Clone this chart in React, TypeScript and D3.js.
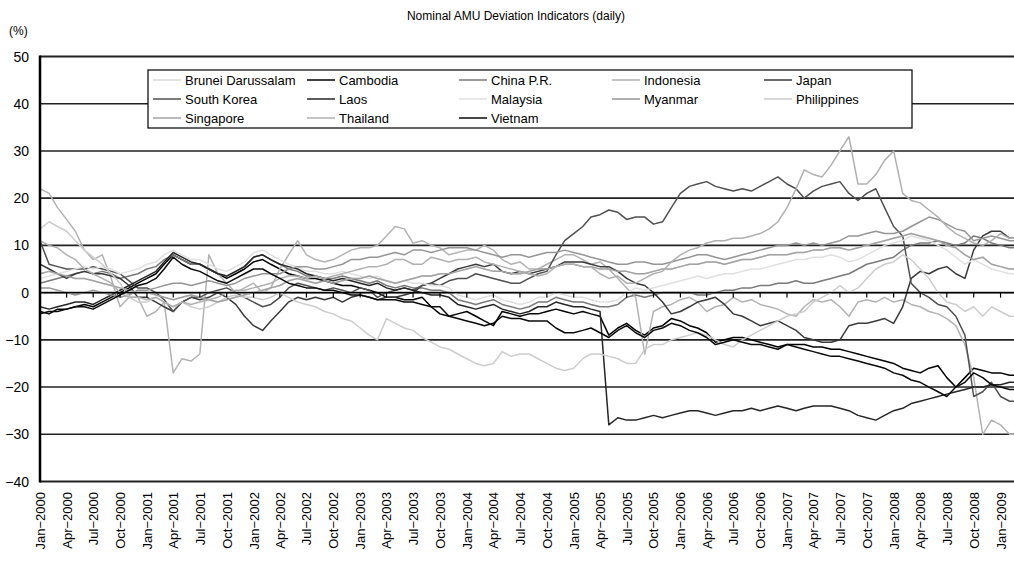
import React from 'react';
import * as d3 from 'd3';

const W = 1014;
const H = 562;
const PL = 40, PR = 1014, PT = 56.5, PB = 481.5;

// monthly readings, Jan-2000 .. Mar-2009 (111 points)
const months = d3.range(111).map((m) => new Date(2000, m, 1));
const xTickDates = d3.range(0, 109, 3).map((m) => new Date(2000, m, 1));
const yTicks = [50, 40, 30, 20, 10, 0, -10, -20, -30, -40];

const singapore = [
  4, 4.5, 4, 3.5, 3, 3, 2.5, 2, 1.5, 1, 0.5, 0,
  0, -0.5, -1, -1.5, -1, -0.5, -1, -1.5, -2, -1.5, -1, -0.5,
  0, 0.5, 1, 1.5, 2.5, 3, 2.5, 2, 2.5, 2, 2.5, 3,
  3, 3.5, 3, 2.5, 2, 2.5, 3, 3.5, 3.5, 4, 4, 4.5,
  5, 5.5, 5, 4.5, 4.5, 4, 4, 4.5, 5, 5, 5.5, 6,
  6, 5.5, 5.5, 5, 5, 4.5, 4.5, 4, 4, 4.5, 5, 5,
  5.5, 6, 6, 6.5, 6.5, 6, 6.5, 7, 7, 7.5, 8, 8,
  8, 8.5, 8.5, 9, 9, 9.5, 9.5, 9, 9.5, 10, 10.5, 11,
  11.5, 12, 12.5, 12, 11.5, 11, 10, 9.5, 8, 7, 7.5, 6,
  5.5, 5, 5,
];
const bruneiDarussalam = [
  4, 4.5, 4, 3.5, 3, 3, 2.5, 2, 1.5, 1, 0.5, 0,
  0, -0.5, -1, -1.5, -1, -0.5, -1, -1.5, -2, -1.5, -1, -0.5,
  0, 0.5, 1, 1.5, 2.5, 3, 2.5, 2, 2.5, 2, 2.5, 3,
  3, 3.5, 3, 2.5, 2, 2.5, 3, 3.5, 3.5, 4, 4, 4.5,
  5, 5.5, 5, 4.5, 4.5, 4, 4, 4.5, 5, 5, 5.5, 6,
  6, 5.5, 5.5, 5, 5, 4.5, 4.5, 4, 4, 4.5, 5, 5,
  5.5, 6, 6, 6.5, 6.5, 6, 6.5, 7, 7, 7.5, 8, 8,
  8, 8.5, 8.5, 9, 9, 9.5, 9.5, 9, 9.5, 10, 10.5, 11,
  11.5, 12, 12.5, 12, 11.5, 11, 10, 9.5, 8, 7, 7.5, 6,
  5.5, 5, 5,
];
const cambodia = [
  -4, -4.5, -3.5, -3.5, -3, -2.5, -3, -2, -1, 0, 1, 2,
  3, 4, 6, 8, 7, 6, 6, 5, 4, 3, 4, 5,
  6.5, 7, 6, 5, 4, 3.5, 3, 3, 2.5, 2, 1.5, 1.5,
  1, 0.5, 0, -1, -1, -1.5, -1.5, -1, -3, -4.5, -5, -4.5,
  -4, -5, -6, -7, -4, -4.5, -5, -4.5, -4.5, -4, -3.5, -4,
  -4.5, -4, -4.5, -5, -9, -7.5, -6.5, -8, -9, -7.5, -7, -5.5,
  -6, -7, -7.5, -8.5, -10.5, -10, -9.5, -9.5, -10, -10.5, -11, -11.5,
  -11, -11, -11, -11.5, -11.5, -12, -12, -12.5, -13, -13.5, -14, -14.5,
  -15, -16, -16.5, -17, -16, -15.5, -18, -20, -18, -16, -16.5, -17,
  -17, -17.5, -17.5,
];
const china = [
  2, 2.5, 3, 3.5, 4, 4.5, 4, 4.5, 4, 3, 3.5, 4,
  5, 5.5, 7, 8, 7, 6, 6, 5, 4, 3.5, 4.5, 5.5,
  7.5, 8, 7, 6, 5, 4.5, 3.5, 3.5, 3, 3, 3.5, 3,
  2.5, 2, 2.5, 1.5, 1, 1.5, 1, 1, 0.5, 0.5, 0, -1.5,
  -2, -2.5, -2, -1.5, -2.5, -3, -3.5, -3, -2, -2, -1, -1.5,
  -2, -2, -2.5, -3, -3, -2.5, -1, -0.5, -1, -0.5, 0, 0,
  0, 0, -0.5, -0.5, 0, 0.5, 0.5, 1, 1, 1.5, 1.5, 2,
  2, 2.5, 2, 2, 2.5, 3, 3.5, 4, 5, 6, 6.5, 7,
  7.5, 9, 10, 10.5, 10.5, 11, 10.5, 10, 10.5, 12, 11.5, 10.5,
  10, 9.5, 9.5,
];
const indonesia = [
  22, 21, 18, 15.5, 13, 9, 7, 8, 3, -3, -1, -1,
  -5, -4, -2, -17, -14, -14.5, -13, 8, 4, 2, 0, 1,
  2, 0, 1, 5, 8, 11, 8, 7, 6.5, 7, 8, 9,
  9.5, 9.5, 10, 12, 14, 13.5, 10.5, 11, 10, 9.5, 8, 8.5,
  9, 9, 10, 9, 7, 6, 6.5, 5, 5, 6, 7, 8,
  8, 7, 6, 6.5, 5, 3, 1, -1, -13, -4, -3, -2.5,
  -1.5, -1, -2, -4, -3, -2.5, -1, -2, -1.5, -2.5, -3, -3.5,
  -4.5, -5, -3, -1.5, -2, -1.5, -3, -5, -2, -1.5, -2, -1,
  -2, -1.5, -2.5, -3, -4, -4.5, -5.5, -7, -11, -18, -30, -27,
  -28, -30, -30,
];
const japan = [
  6, 5, 4, 3, 4, 4.5, 4, 4, 3.5, 3, 1.5, -1,
  -1, -2, -3, -4, -2, -1, -1.5, -1, 0, -1, -2.5, -5,
  -7, -8, -6, -4, -2, -1, -1.5, -1, -1.5, -1, -2, -1,
  -0.5, -1, -1.5, -1, -1, -0.5, 0, 1.5, 2, 3, 4, 5,
  5.5, 6, 5.5, 6, 4.5, 4, 4.5, 4, 4.5, 5, 5.5, 6.5,
  6.5, 6.5, 6, 5.5, 5.5, 4.5, 3, 2, 1.5, 0, -2, -4.5,
  -4, -3, -2, -1.5, -1, -2.5, -4.5, -5, -6, -7, -6.5, -6,
  -7, -8, -9.5, -10, -10.5, -10.5, -10, -7, -6.5, -6.5, -6, -5.5,
  -6.5, -3, 3, 4.5, 4, 5, 5.5, 4, 3, 9, 12, 13,
  13, 11.5, 11.5,
];
const southKorea = [
  11, 6, 5.5, 5, 5, 5, 5.5, 5, 4.5, 4, 2.5, 1,
  1, 0, -1.5, -4, -2, -1, -1, 0, 0.5, 1, 0, -1,
  -2, -3, -2.5, -1, 1, 2, 1.5, 1, 0.5, 1, 0.5, 0,
  1, 0.5, -1, 0, 0.5, 1, 0.5, 1.5, 2, 1.5, 2.5, 3,
  3, 4, 3.5, 3, 2.5, 2, 2, 3, 4, 4.5, 8, 11,
  12.5, 14, 16, 16.5, 17.5, 17, 15.5, 16, 16, 14.5, 15, 18,
  21, 22.5, 23, 23.5, 22.5, 22, 21.5, 22, 21.5, 22.5, 23.5, 24.5,
  23, 22, 20, 21.5, 22.5, 23, 23.5, 21, 19.5, 21, 22, 18,
  14, 12, 2, 0, -1, -2.5, -3, -5, -9, -22, -21, -19,
  -22, -23, -23,
];
const laos = [
  -3, -3.5, -3, -2.5, -2, -2, -2.5, -1.5, -0.5, 0.5, 1.5, 2.5,
  3.5, 4.5, 6.5, 8.5, 7.5, 6.5, 6, 5, 4, 3.5, 4.5, 5.5,
  7.5, 8, 7, 6, 5.5, 5, 4, 3.5, 3, 2.5, 3, 2.5,
  2, 1.5, 2, 1, 0.5, 1, 0.5, 0, -0.5, -0.5, -1, -2.5,
  -3, -3.5, -3, -2.5, -3.5, -4, -4.5, -4, -3, -3, -2, -2.5,
  -3, -3, -3.5, -4, -28, -26.5, -27, -27, -26.5, -26, -26.5, -26,
  -25.5, -25, -25, -25.5, -26, -25.5, -25, -25, -24.5, -25, -24.5, -24,
  -24.5, -25, -24.5, -24, -24, -24, -24.5, -25, -26, -26.5, -27, -26,
  -25, -24.5, -23.5, -23, -22.5, -22, -21.5, -21, -20.5, -20, -20, -19.5,
  -19.5, -19, -19,
];
const malaysia = [
  3, 3.5, 4, 4.5, 5, 5.5, 5, 5.5, 5, 4, 4.5, 5,
  6, 6.5, 8, 9, 8, 7, 7, 6, 5, 4.5, 5.5, 6.5,
  8.5, 9, 8, 7, 6, 5.5, 4.5, 4.5, 4, 4, 4.5, 4,
  3.5, 3, 3.5, 2.5, 2, 2.5, 2, 2, 1.5, 1.5, 1, -0.5,
  -1, -1.5, -1, -0.5, -1.5, -2, -2.5, -2, -1, -1, 0, -0.5,
  -1, -1, -1.5, -2, -2, -1.5, 0, 1, 0.5, 1, 1.5, 2,
  2.5, 3, 3.5, 3, 3.5, 4, 4, 4.5, 5, 5, 5.5, 6,
  6.5, 7, 7, 7.5, 7.5, 8, 7.5, 6.5, 7, 8, 9, 10,
  10.5, 11, 12, 11.5, 11, 10, 9, 7.5, 6, 7, 6, 5,
  4.5, 4, 4,
];
const myanmar = [
  1, 1, 0.5, 0, -0.5, 0, 0.5, 0, -0.5, -1, -0.5, 0.5,
  0.5, 1, 1.5, 2, 2, 1.5, 2, 2.5, 2, 1.5, 2, 3,
  3.5, 4, 4, 4, 5, 5.5, 5.5, 5, 5, 5.5, 6, 7,
  7, 7.5, 7.5, 8, 8.5, 8, 9, 9, 8.5, 9, 9.5, 9.5,
  9.5, 9, 8.5, 8, 7.5, 8, 8, 7.5, 8, 8.5, 8.5, 9,
  8.5, 8, 7.5, 7, 6.5, 6, 6, 6.5, 6.5, 6, 6, 6.5,
  7, 7.5, 8, 8, 7.5, 7, 7.5, 8, 8.5, 9, 9.5, 10,
  10, 10.5, 10, 10.5, 10, 10.5, 11, 12, 12, 12.5, 13, 12.5,
  12.5, 13, 14, 15, 16, 15.5, 14.5, 13.5, 13, 11, 11.5, 12,
  11.5, 11, 11,
];
const philippines = [
  13.5, 15, 14, 13, 11, 9, 7.5, 6, 4, 2, -1, -2,
  -2, -1, -2, -3, -2, -3, -3.5, -3, -2, -1, -0.5, -1,
  -1, -1.5, -1, 0, -1, -2, -2.5, -3, -4, -4.5, -5.5, -6,
  -7.5, -9, -10, -5.5, -6.5, -7.5, -8, -9.5, -10.5, -11.5, -12, -13,
  -14, -15, -15.5, -15, -12.5, -13.5, -13, -13, -14, -15, -16, -16.5,
  -16, -14, -13, -13, -13.5, -14, -15, -15, -12, -11, -11, -10,
  -9.5, -9, -8.5, -9, -10, -11, -11.5, -10, -9, -8, -7, -6,
  -5, -4.5, -4, -2, -1, 0, 1.5, 0, 1, 3, 5, 6,
  6.5, 8, 7, 5, 3, 0, -2, -2.5, -4, -3, -5, -3,
  -4, -5, -5,
];
const thailand = [
  11, 10, 9.5, 8, 7, 5, 4, 3, 2, 0, -1, -1,
  -1.5, -1, -2, -3, -2, -2.5, -2, -1.5, -1, 0, 0.5, 0.5,
  1, 1.5, 2, 3, 3.5, 3.5, 3, 3.5, 3, 3.5, 4, 4.5,
  5, 5.5, 5.5, 6, 7, 7, 6, 6, 7.5, 7, 6.5, 7,
  7, 7.5, 6.5, 6, 5.5, 5, 4.5, 4, 3.5, 4, 5.5, 6,
  6, 5.5, 5.5, 4, 3, 3.5, 2, 2, 3, 4, 4.5, 6.5,
  8, 9, 9.5, 10.5, 11, 11, 11.5, 11.5, 12, 12.5, 13.5, 15,
  18, 22, 26, 25, 24.5, 27, 30, 33, 23, 23, 25, 28,
  30, 21, 19.5, 19, 17.5, 16, 14, 12.5, 11.5, 10.5, 10, 11,
  12.5, 11.5, 11.5,
];
const vietnam = [
  -4.5, -4, -4, -3.5, -3, -3, -3.5, -2.5, -1.5, -0.5, 0.5, 1.5,
  2, 3, 5, 7.5, 6, 5, 4.5, 3.5, 2.5, 2, 3, 4,
  5, 5, 4, 3, 2, 1.5, 1, 1, 0.5, 0.5, 0, -0.5,
  -0.5, -1, -1.5, -1.5, -1.5, -2, -2, -2.5, -3, -3, -5, -5.5,
  -6, -6.5, -7, -6.5, -5, -5.5, -5.5, -6, -6, -6, -7.5, -8.5,
  -8.5, -8, -7.5, -8.5, -9.5, -8, -7, -8.5, -9.5, -8, -7.5, -6.5,
  -7, -8, -8.5, -9.5, -11, -10.5, -10, -10.5, -11, -11, -11.5, -12,
  -11, -11.5, -12, -12.5, -13, -13.5, -13.5, -14, -14.5, -15, -15.5, -16,
  -17, -17.5, -18.5, -19, -20, -21, -22, -20, -19, -17, -18, -19.5,
  -20, -20.5, -20.5,
];

const seriesNames = [
  'Brunei Darussalam', 'Cambodia', 'China P.R.', 'Indonesia', 'Japan',
  'South Korea', 'Laos', 'Malaysia', 'Myanmar', 'Philippines',
  'Singapore', 'Thailand', 'Vietnam',
];
const seriesValues = [
  bruneiDarussalam, cambodia, china, indonesia, japan,
  southKorea, laos, malaysia, myanmar, philippines,
  singapore, thailand, vietnam,
];
const seriesColors = [
  '#d9d9d9', '#000000', '#7a7a7a', '#b3b3b3', '#3a3a3a',
  '#505050', '#262626', '#e0e0e0', '#969696', '#cdcdcd',
  '#a3a3a3', '#b0b0b0', '#0a0a0a',
];

const FONT = '"Liberation Sans", Arial, sans-serif';

export default function App() {
  const x = d3.scaleTime()
    .domain([new Date(2000, 0, 1), new Date(2009, 1, 16)])
    .range([PL, PR]);
  const y = d3.scaleLinear().domain([-40, 50]).range([PB, PT]);

  const line = d3.line<number>()
    .x((_, i) => x(months[i]))
    .y((d) => y(d));

  const fmtMon = d3.timeFormat('%b');
  const fmtYear = d3.timeFormat('%Y');
  const minus = (v: number) => (v < 0 ? '\u2212' + Math.abs(v) : String(v));

  const legendCols = [153, 307, 459, 612, 764];
  const legendRows = [80, 99, 118];

  return (
    <div style={{ position: 'absolute', left: 0, top: 0 }}>
      <svg width={W} height={H} style={{ display: 'block', background: '#fff' }} fontFamily={FONT}>
        <defs>
          <clipPath id="plotClip">
            <rect x={PL} y={PT - 2} width={PR - PL} height={PB - PT + 4} />
          </clipPath>
        </defs>
        <text x={516} y={20} textAnchor="middle" fontSize={12}>
          Nominal AMU Deviation Indicators (daily)
        </text>
        <text x={9} y={35} fontSize={12}>(%)</text>

        {/* gridlines */}
        {yTicks.map((t) => (
          <line key={'g' + t} x1={PL} x2={PR} y1={y(t)} y2={y(t)}
            stroke="#222" strokeWidth={t === 50 || t === -40 ? 2 : 1.6} />
        ))}

        {/* series */}
        <g clipPath="url(#plotClip)">
          {seriesValues.map((vals, i) => (
            <path key={seriesNames[i]} d={line(vals) || ''} fill="none"
              stroke={seriesColors[i]} strokeWidth={1.5} strokeLinejoin="round" />
          ))}
        </g>

        {/* category axis on zero line with ticks */}
        <line x1={PL} x2={PR} y1={y(0)} y2={y(0)} stroke="#000" strokeWidth={1.4} />
        {xTickDates.map((d) => (
          <line key={'t' + d.getTime()} x1={x(d)} x2={x(d)} y1={y(0)} y2={y(0) + 5}
            stroke="#000" strokeWidth={1.2} />
        ))}
        <line x1={PL} x2={PL} y1={PT - 1} y2={PB + 1} stroke="#000" strokeWidth={2.5} />

        {/* y tick labels */}
        {yTicks.map((t) => (
          <text key={'y' + t} x={29} y={y(t) + 5} textAnchor="end" fontSize={14}>
            {minus(t)}
          </text>
        ))}

        {/* x tick labels */}
        {xTickDates.map((d) => (
          <text key={'x' + d.getTime()} textAnchor="end" fontSize={13}
            transform={`translate(${x(d) + 5},${492}) rotate(-90)`}>
            {fmtMon(d) + '\u2212' + fmtYear(d)}
          </text>
        ))}

        {/* legend */}
        <rect x={148} y={70} width={764} height={58} fill="#fff" stroke="#000" strokeWidth={1.2} />
        {seriesNames.map((name, i) => {
          const col = i % 5;
          const row = Math.floor(i / 5);
          const lx = legendCols[col];
          const ly = legendRows[row];
          return (
            <g key={'l' + name}>
              <line x1={lx} x2={lx + 28} y1={ly} y2={ly} stroke={seriesColors[i]} strokeWidth={1.5} />
              <text x={lx + 32} y={ly + 4.5} fontSize={13}>{name}</text>
            </g>
          );
        })}
      </svg>
    </div>
  );
}
